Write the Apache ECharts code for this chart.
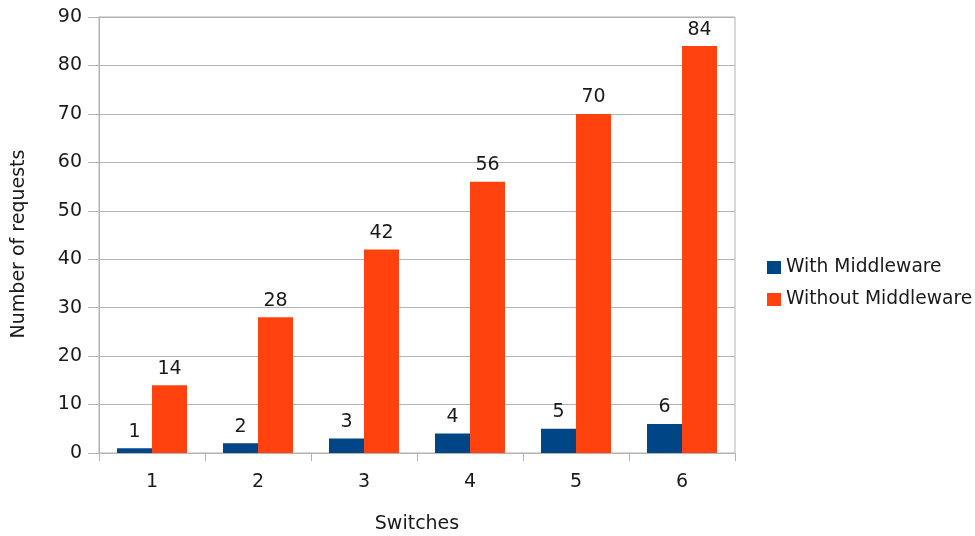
<!DOCTYPE html>
<html>
<head>
<meta charset="utf-8">
<script src="https://cdn.jsdelivr.net/npm/echarts@6/dist/echarts.min.js"></script>
<style>
  html, body { margin: 0; padding: 0; background: #fff; }
  #chart { width: 975px; height: 536px; }
</style>
</head>
<body>
<div id="chart"></div>
<script>
// Number of controller requests per switch count
const switches = ['1', '2', '3', '4', '5', '6'];
const withMiddleware = [1, 2, 3, 4, 5, 6];
const withoutMiddleware = [14, 28, 42, 56, 70, 84];
const seriesNames = ['With Middleware', 'Without Middleware'];

const FONT = '"DejaVu Sans", sans-serif';
const GRID = '#b3b3b3';
const TEXT = '#1a1a1a';
const SIZE = 19;

const chart = echarts.init(document.getElementById('chart'));

const labelStyle = {
  show: true,
  position: 'top',
  distance: 7,
  fontFamily: FONT,
  fontSize: SIZE,
  color: TEXT
};

chart.setOption({
  animation: false,
  textStyle: { fontFamily: FONT },
  grid: {
    left: 99, right: 240, top: 17, bottom: 83,
    outerBoundsMode: 'none',
    containLabel: false,
    show: true, borderColor: GRID, borderWidth: 1, backgroundColor: 'transparent'
  },
  legend: {
    orient: 'vertical',
    left: 762,
    top: 253,
    itemWidth: 14,
    itemHeight: 13,
    itemGap: 13,
    icon: 'rect',
    textStyle: { fontFamily: FONT, fontSize: 18.7, color: TEXT },
    data: seriesNames
  },
  xAxis: {
    type: 'category',
    data: switches,
    name: 'Switches',
    nameLocation: 'middle',
    nameGap: 62,
    nameTextStyle: { fontFamily: FONT, fontSize: SIZE, color: TEXT },
    axisLine: { lineStyle: { color: GRID } },
    axisTick: { show: true, length: 8, lineStyle: { color: GRID } },
    axisLabel: { fontFamily: FONT, fontSize: SIZE, color: TEXT, margin: 20 }
  },
  yAxis: {
    type: 'value',
    min: 0, max: 90, interval: 10,
    name: 'Number of requests',
    nameLocation: 'middle',
    nameGap: 70,
    nameTextStyle: { fontFamily: FONT, fontSize: SIZE, color: TEXT, padding: [0, 18, 0, 0] },
    axisLine: { show: true, lineStyle: { color: GRID } },
    axisTick: { show: true, length: 11, lineStyle: { color: GRID } },
    splitLine: { lineStyle: { color: GRID } },
    axisLabel: { fontFamily: FONT, fontSize: SIZE, color: TEXT, margin: 17 }
  },
  series: [
    {
      name: seriesNames[0],
      type: 'bar',
      data: withMiddleware,
      barWidth: 35,
      barGap: '0%',
      itemStyle: { color: '#004586' },
      label: labelStyle
    },
    {
      name: seriesNames[1],
      type: 'bar',
      data: withoutMiddleware,
      barWidth: 35,
      barGap: '0%',
      itemStyle: { color: '#ff420e' },
      label: labelStyle
    }
  ]
});
</script>
</body>
</html>
